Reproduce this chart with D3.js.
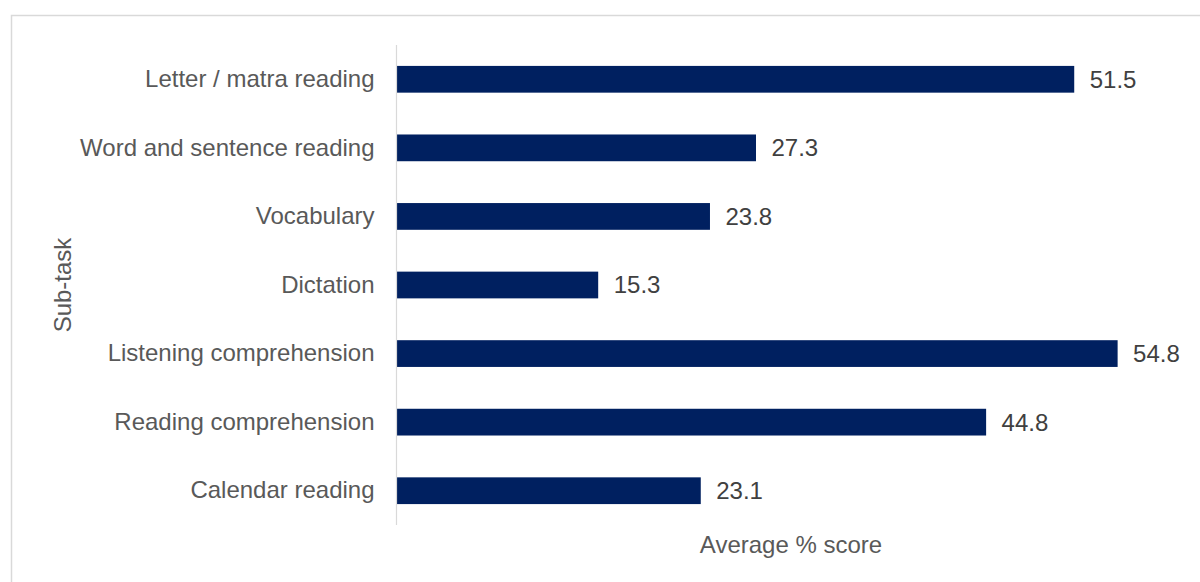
<!DOCTYPE html>
<html>
<head>
<meta charset="utf-8">
<script src="https://cdn.jsdelivr.net/npm/d3@7"></script>
<style>
  html, body { margin: 0; padding: 0; background: #fff; }
  svg { display: block; }
  text { font-family: "Liberation Sans", Arial, sans-serif; }
</style>
</head>
<body>
<svg id="chart" width="1200" height="582"></svg>
<script>
const categories = [
  "Letter / matra reading",
  "Word and sentence reading",
  "Vocabulary",
  "Dictation",
  "Listening comprehension",
  "Reading comprehension",
  "Calendar reading"
];
const scores = [51.5, 27.3, 23.8, 15.3, 54.8, 44.8, 23.1];
const xTitle = "Average % score";
const yTitle = "Sub-task";

const data = categories.map((c, i) => ({ category: c, value: scores[i] }));

const svg = d3.select("#chart");
const W = 1200, H = 582;

// chart frame
svg.append("rect")
  .attr("x", 11.5).attr("y", 15.5)
  .attr("width", W + 10).attr("height", H)
  .attr("fill", "#fff").attr("stroke", "#d9d9d9").attr("stroke-width", 1.5);

const plot = { left: 397, top: 45, bottom: 525 };

const x = d3.scaleLinear().domain([0, 60]).range([plot.left, plot.left + 60 * 13.15]);
const y = d3.scaleBand().domain(categories).range([plot.top, plot.bottom]).paddingInner(0.61).paddingOuter(0.305);

// bars
svg.append("g").selectAll("rect")
  .data(data).join("rect")
  .attr("x", x(0))
  .attr("y", d => y(d.category))
  .attr("width", d => x(d.value) - x(0))
  .attr("height", y.bandwidth())
  .attr("fill", "#002060");

// category axis
const yAxis = d3.axisLeft(y).tickSize(0).tickPadding(22);
const yg = svg.append("g").attr("transform", `translate(${plot.left - 0.5},0)`).call(yAxis);
yg.select(".domain").attr("stroke", "#d9d9d9").attr("stroke-width", 1.2)
  .attr("d", `M0,${plot.top}V${plot.bottom}`);
yg.selectAll("text")
  .attr("fill", "#595959")
  .style("font-size", "24px");

// value labels
svg.append("g").selectAll("text")
  .data(data).join("text")
  .attr("x", d => x(d.value) + 15.5)
  .attr("y", d => y(d.category) + y.bandwidth() / 2)
  .attr("dy", "0.35em")
  .attr("fill", "#404040")
  .style("font-size", "24px")
  .text(d => d.value.toFixed(1));

// axis titles
svg.append("text")
  .attr("x", 791).attr("y", 553)
  .attr("text-anchor", "middle")
  .attr("fill", "#595959")
  .style("font-size", "24px")
  .text(xTitle);

svg.append("text")
  .attr("transform", `translate(71,${(plot.top + plot.bottom) / 2}) rotate(-90)`)
  .attr("text-anchor", "middle")
  .attr("fill", "#595959")
  .style("font-size", "24px")
  .text(yTitle);
</script>
</body>
</html>
